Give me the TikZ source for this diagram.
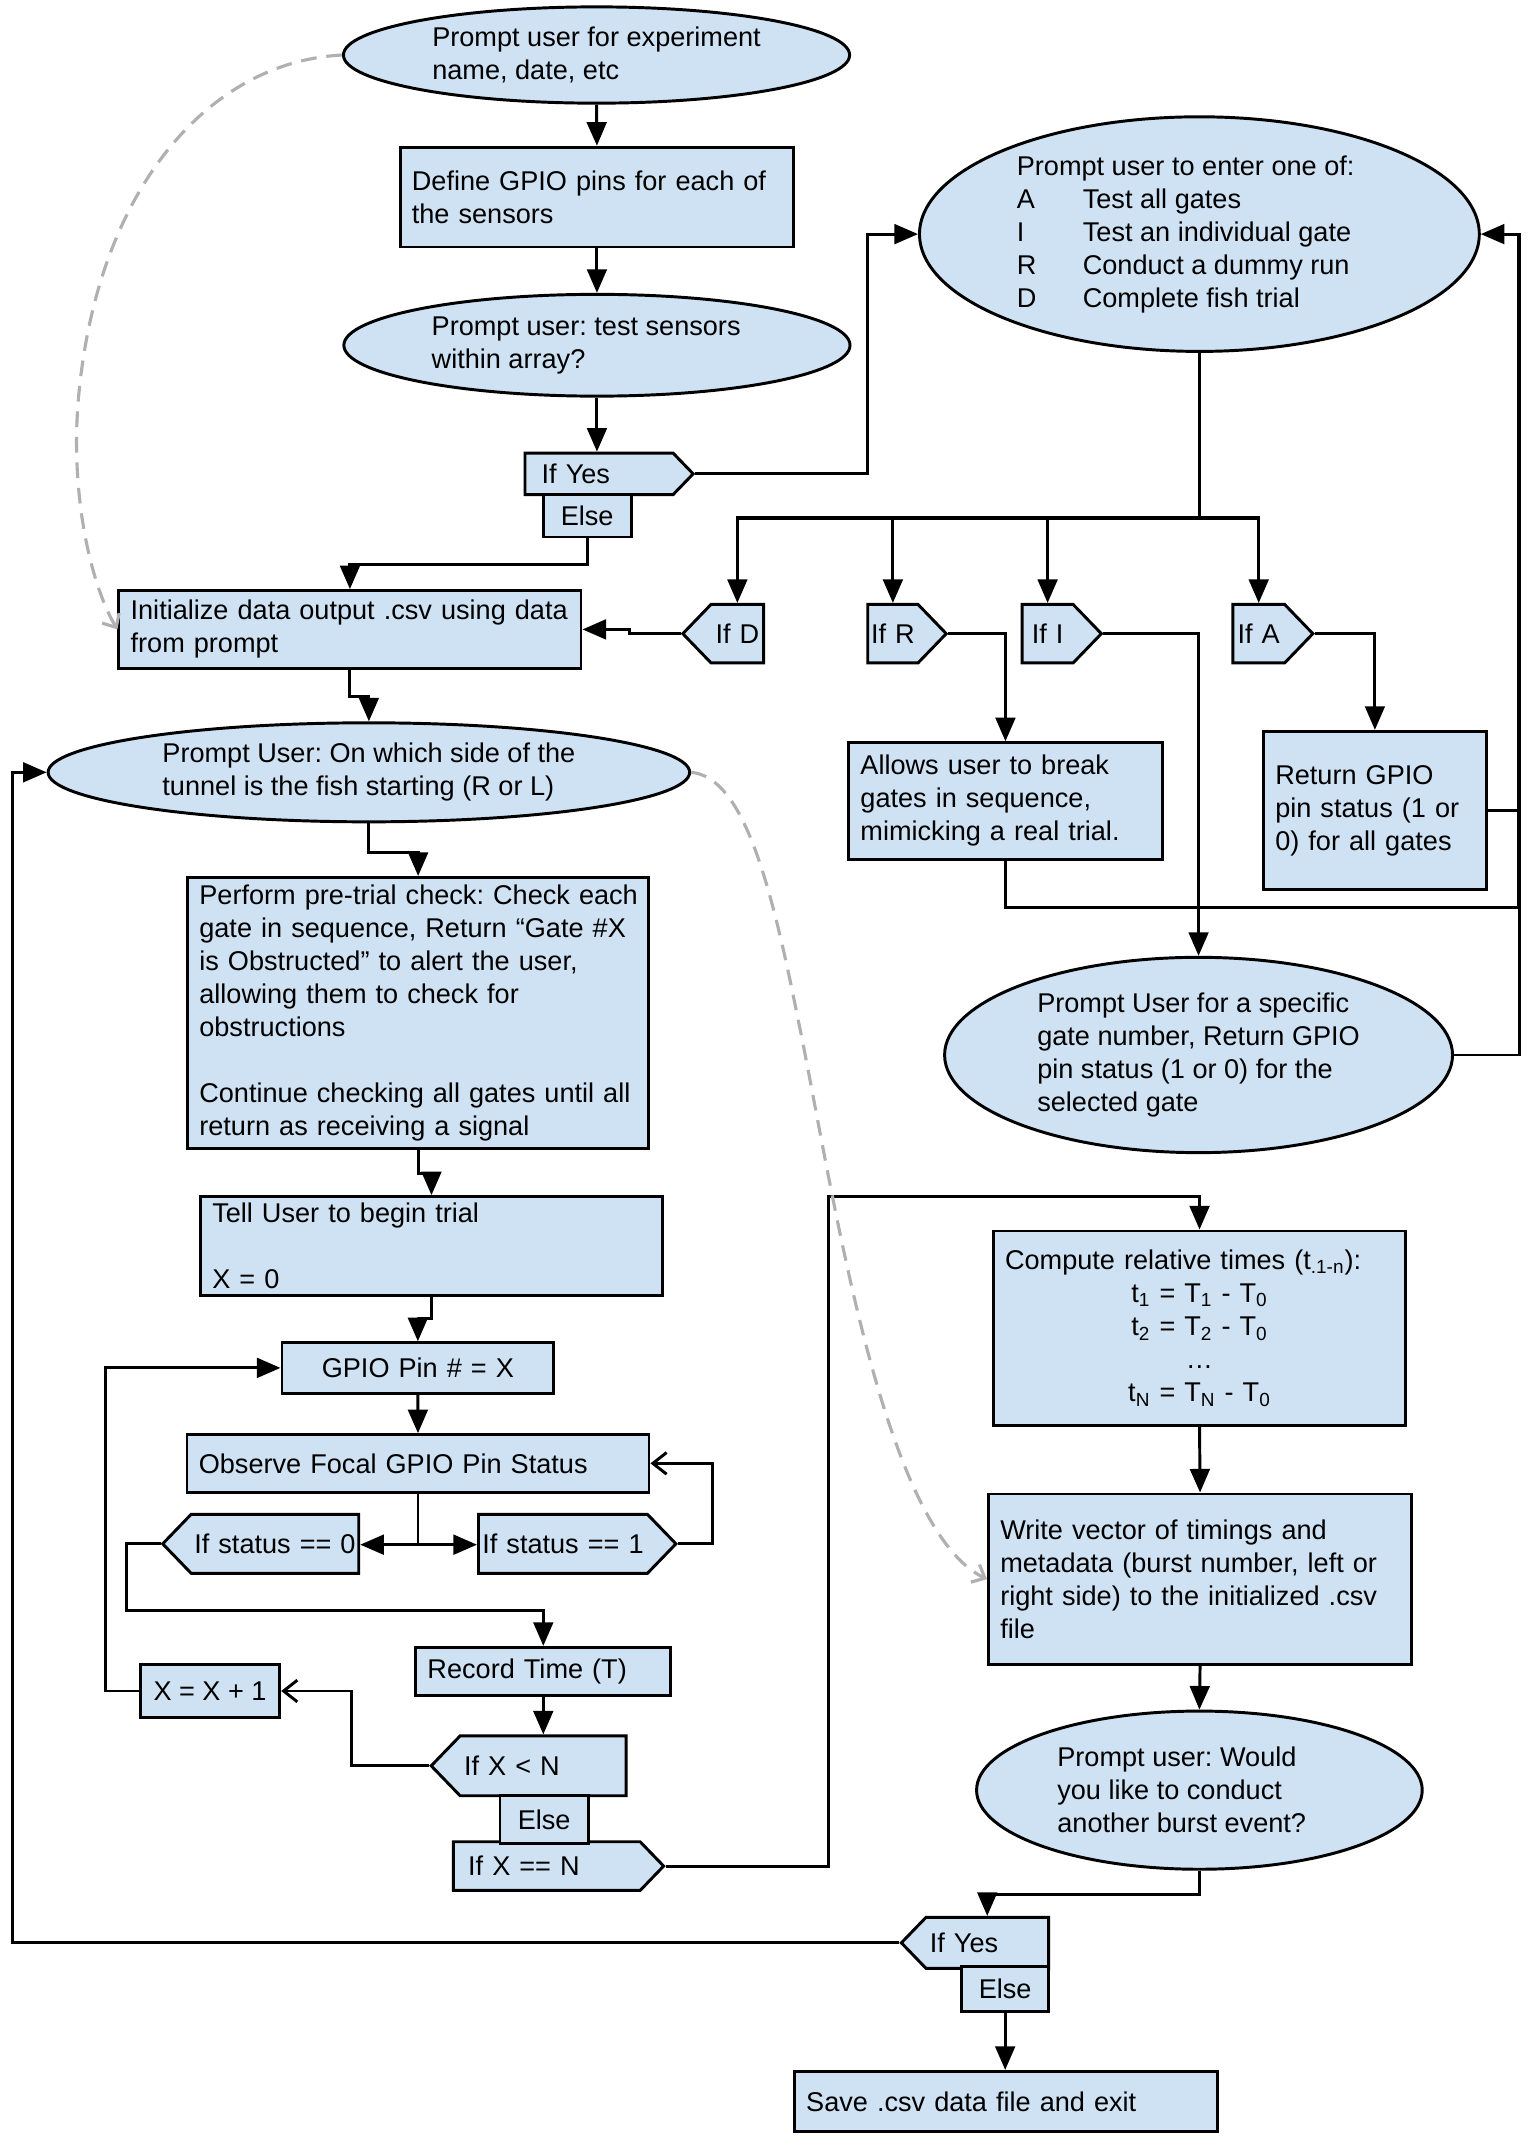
\documentclass[tikz,border=0pt]{standalone}
\usepackage{fontspec}
\setmainfont{Liberation Sans}
\usetikzlibrary{shapes.geometric, shapes.symbols, arrows.meta}
\definecolor{boxblue}{HTML}{CFE2F3}
\definecolor{hintgray}{HTML}{B0B0B0}
\frenchspacing

\begin{document}
\begin{tikzpicture}[x=0.7pt, y=-0.7pt, font=\fontsize{13.8}{16.8}\selectfont,
	box/.style={rectangle, draw, fill=boxblue, line width=1.5pt, inner xsep=6pt, inner ysep=2pt, align=left},
	oval/.style={ellipse, draw, fill=boxblue, line width=1.5pt, inner xsep=0pt, inner ysep=-3pt, align=left},
	ifbox/.style={signal, draw, fill=boxblue, line width=1.5pt, inner xsep=1pt, inner ysep=0pt, signal pointer angle=92, align=center},
	flow/.style={line width=1.5pt, -{Triangle[length=12pt, width=10pt]}},
	wire/.style={line width=1.5pt},
	bus/.style={line width=2.1pt},
	back/.style={line width=1.5pt, -{Straight Barb[length=7pt, width=11pt]}},
	hint/.style={draw=hintgray, line width=1.6pt, dash pattern=on 8pt off 5pt, -{Straight Barb[length=5.5pt, width=10pt]}}]
	\useasboundingbox (0,0) rectangle (1116,1562.4);

	% setup
	\node[oval, minimum width=257.6pt, minimum height=49pt] (start) at (433.7,40) {Prompt user for experiment\\name, date, etc};
	\node[box, minimum width=200.4pt, minimum height=50.8pt, text width=188.4pt] (define) at (434,143.3) {Define GPIO pins for each of\\the sensors};
	\node[oval, minimum width=257.6pt, minimum height=51.8pt] (testq) at (434,251) {Prompt user: test sensors\hspace*{11pt}\\within array?};
	\node[ifbox, signal to=east, anchor=west, minimum height=21.1pt, inner xsep=8.5pt, text width=58.4pt, align=left] (ifyes1) at (380.6,344.5) {If Yes};
	\node[box, align=center, minimum width=44.9pt, minimum height=21.6pt, inner xsep=0pt, inner ysep=0pt] (else1) at (426.9,375) {Else};
	\node[box, minimum width=235.2pt, minimum height=39.5pt, text width=223.2pt] (init) at (254.4,457.6) {Initialize data output .csv using data\\from prompt};

	% sensor test menu
	\node[oval, minimum width=284.9pt, minimum height=119.4pt] (menu) at (872,170.2) {Prompt user to enter one of:\hspace*{14pt}\\\makebox[33.6pt][l]{A}Test all gates\\\makebox[33.6pt][l]{I}Test an individual gate\\\makebox[33.6pt][l]{R}Conduct a dummy run\\\makebox[33.6pt][l]{D}Complete fish trial};
	\node[ifbox, signal to=west, anchor=east, minimum height=29.75pt, text width=24.8pt] (ifD) at (556.3,460.7) {If D};
	\node[ifbox, signal to=east, anchor=west, minimum height=29.75pt, text width=23.6pt] (ifR) at (629.8,460.7) {If R};
	\node[ifbox, signal to=east, anchor=west, minimum height=29.75pt, text width=24pt] (ifI) at (742,460.7) {If I};
	\node[ifbox, signal to=east, anchor=west, minimum height=29.75pt, text width=24.4pt] (ifA) at (895.2,460.7) {If A};
	\node[box, minimum width=159.6pt, minimum height=59.2pt, text width=147.6pt] (dummy) at (731,582.3) {Allows user to break\\gates in sequence,\\mimicking a real trial.};
	\node[box, minimum width=113.4pt, minimum height=80.5pt, text width=101.4pt] (allgates) at (999.6,589.2) {Return GPIO\\pin status (1 or\\0) for all gates};
	\node[oval, minimum width=258.5pt, minimum height=99.4pt] (single) at (871.4,767) {Prompt User for a specific\\gate number, Return GPIO\\pin status (1 or 0) for the\\selected gate};

	% trial
	\node[oval, minimum width=326.5pt, minimum height=50.4pt] (side) at (268.2,561.5) {Prompt User: On which side of the\\tunnel is the fish starting (R or L)};
	\node[box, minimum width=234.7pt, minimum height=138pt, text width=222.7pt] (pretrial) at (304,736.5) {\mbox{Perform pre-trial check: Check each}\\gate in sequence, Return “Gate \#X\\is Obstructed” to alert the user,\\allowing them to check for\\obstructions\\[16.8pt]\mbox{Continue checking all gates until all}\\return as receiving a signal};
	\node[box, minimum width=235.1pt, minimum height=50.4pt, text width=223.1pt] (begin) at (313.7,906) {Tell User to begin trial\\[16.8pt]X = 0};
	\node[box, align=center, minimum width=138.3pt, minimum height=25.6pt, text width=126.3pt] (pin) at (303.8,994.5) {GPIO Pin \# = X};
	\node[box, minimum width=235.1pt, minimum height=29.2pt, text width=223.1pt] (observe) at (303.9,1063.9) {Observe Focal GPIO Pin Status};
	\node[ifbox, signal to=west, anchor=east, minimum height=30pt, text width=83.3pt] (stat0) at (261.9,1122.4) {If status == 0};
	\node[ifbox, signal to=east, anchor=west, minimum height=30pt, text width=84pt] (stat1) at (346.8,1122.4) {If status == 1};
	\node[box, minimum width=129.9pt, minimum height=24.4pt, text width=117.9pt] (record) at (395,1215.1) {Record Time (T)};
	\node[box, align=center, minimum width=70.9pt, minimum height=27.2pt, inner xsep=0pt] (incr) at (152.7,1229.4) {X = X + 1};
	\node[ifbox, signal to=west, anchor=east, minimum height=30.45pt, inner xsep=2pt, text width=80.5pt, align=left] (ltN) at (456.3,1283.8) {If X < N};
	\node[ifbox, signal to=east, anchor=west, minimum height=24.8pt, inner xsep=7.5pt, text width=80pt, align=left] (eqN) at (328.6,1356.7) {If X == N};
	\node[box, align=center, minimum width=44.9pt, minimum height=24.4pt, inner xsep=0pt, inner ysep=0pt] (else2) at (395.6,1322.9) {Else};

	% results
	\node[box, align=center, minimum width=210pt, minimum height=98.9pt, text width=198pt] (compute) at (872.1,965.6) {\makebox[198pt][l]{Compute relative times (t\textsubscript{.1-n}):}\\t\textsubscript{1} = T\textsubscript{1} - T\textsubscript{0}\\t\textsubscript{2} = T\textsubscript{2} - T\textsubscript{0}\\\dots\\t\textsubscript{N} = T\textsubscript{N} - T\textsubscript{0}};
	\node[box, minimum width=215.4pt, minimum height=86.7pt, text width=203.4pt] (write) at (872.5,1148.1) {Write vector of timings and\\metadata (burst number, left or\\right side) to the initialized .csv\\file};
	\node[oval, minimum width=226.8pt, minimum height=80.5pt] (again) at (872,1301.5) {Prompt user: Would\\you like to conduct\\another burst event?\hspace*{18pt}};
	\node[ifbox, signal to=west, anchor=east, minimum height=25.9pt, inner xsep=2pt, text width=58.4pt, align=left] (ifyes2) at (763.4,1412.5) {If Yes};
	\node[box, align=center, minimum width=44.2pt, minimum height=22.8pt, inner xsep=0pt, inner ysep=0pt] (else3) at (730.8,1446.2) {Else};
	\node[box, minimum width=215.2pt, minimum height=30.7pt, text width=203.2pt] (save) at (731.3,1527.9) {Save .csv data file and exit};

	% connectors
	\draw[flow] (start.south) -- (define.north);
	\draw[flow] (define.south) -- (testq.north);
	\draw[flow] (testq.south) -- (testq.south |- ifyes1.north);
	\draw[flow] (ifyes1.east) -- ++(125.1,0) |- (menu.west);
	\draw[flow] (else1.south) -- ++(0,19.1) -| (init.north);
	\draw[wire] (menu.south) -- ++(0,120) coordinate (fork);
	\draw[bus] (fork -| ifD.north) -- (fork -| ifA.north);
	\draw[flow] (fork) -| (ifD.north);
	\draw[flow] (fork) -| (ifR.north);
	\draw[flow] (fork) -| (ifI.north);
	\draw[flow] (fork) -| (ifA.north);
	\draw[flow] (ifD.west) -- ++(-37,0) |- (init.east);
	\draw[flow] (ifR.east) -| (dummy.north);
	\draw[flow] (ifI.east) -| (single.north);
	\draw[flow] (ifA.east) -| (allgates.north);
	\coordinate (rail) at (1104.4,659.8);
	\draw[wire] (dummy.south) |- (rail);
	\draw[wire] (allgates.east) -- (allgates.east -| rail);
	\draw[bus] (rail) -- (rail |- menu.east);
	\draw[flow] (single.east) -| (rail) |- (menu.east);

	\draw[flow] (init.south) -- ++(0,19.2) -| (side.north);
	\draw[flow] (side.south) -- ++(0,21.1) -| (pretrial.north);
	\draw[flow] (pretrial.south) -- ++(0,17.2) -| (begin.north);
	\draw[flow] (begin.south) -- ++(0,15.8) -| (pin.north);
	\draw[flow] (pin.south) -- (observe.north);
	\draw[wire] (observe.south) -- ++(0,37.2) coordinate (split);
	\draw[flow] (split) -- (split -| stat0.east);
	\draw[flow] (split) -- (split -| stat1.west);
	\draw[back] (stat1.east) -- ++(25.2,0) |- (observe.east);
	\draw[flow] (stat0.west) -- ++(-24.8,0) -- ++(0,48.6) -| (record.north);
	\draw[flow] (record.south) -- (record.south |- ltN.north);
	\draw[back] (ltN.west) -- ++(-56.8,0) |- (incr.east);
	\draw[flow] (incr.west) -- ++(-24.1,0) |- (pin.west);
	\draw[flow] (eqN.east) -| (602,869.9) -| (compute.north);

	\draw[flow] (compute.south) -- (write.north);
	\draw[flow] (write.south) -- (again.north);
	\draw[flow] (again.south) -- ++(0,17.5) -| (ifyes2.north);
	\draw[flow] (ifyes2.west) -- ++(-645,0) |- (side.west);
	\draw[flow] (else3.south) -- (else3.south |- save.north);

	% data links
	\draw[hint] (start.west) .. controls (150,45) and (70,140) .. (57,290) .. controls (51,360) and (66,425) .. (init.west);
	\draw[hint] (side.east) .. controls (540,565) and (560,640) .. (580,740) .. controls (605,860) and (640,1110) .. (write.west);

\end{tikzpicture}
\end{document}
